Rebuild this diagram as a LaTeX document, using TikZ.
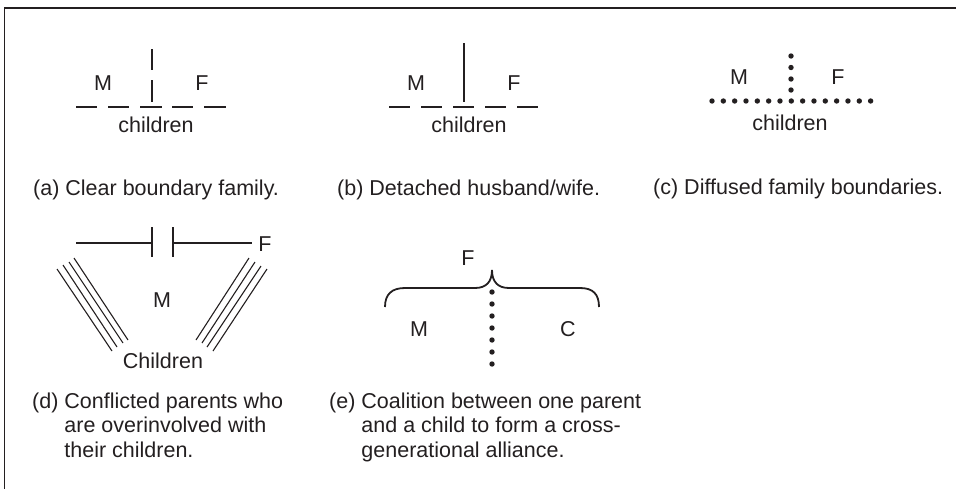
\documentclass[tikz,border=0pt]{standalone}
\usepackage{fontspec}
\setmainfont{Liberation Sans}
\definecolor{ink}{RGB}{35,31,32}
\begin{document}
\begin{tikzpicture}[x=1pt,y=-1pt,
  lbl/.style={anchor=base,inner sep=0pt,text=ink,font=\fontsize{21.5}{24.5}\selectfont},
  captxt/.style={anchor=base west,inner sep=0pt,text=ink,align=left,font=\fontsize{21.5}{24.5}\selectfont},
  ln/.style={draw=ink,line width=1.1pt},
  dotfill/.style={fill=ink}]
\useasboundingbox (0,0) rectangle (956,488);
% frame
\draw[draw=ink,line width=1.8pt] (4.5,500) -- (4.5,8) -- (970,8);

% (a)
\node[lbl] (aM) at (103,90) {M};
\node[lbl] (aF) at (202,90) {F};
\node[lbl] (ach) at (156,132) {children};
\draw[ln] (152,49) -- (152,70) (152,80) -- (152,102);
\foreach \a/\b in {76/97,108/129,140/162,172/193,204/226}
  \draw[ln] (\a,107) -- (\b,107);
\node[captxt] (acap) at (33,195) {(a) Clear boundary family.};

% (b)
\node[lbl] (bM) at (416,90) {M};
\node[lbl] (bF) at (514,90) {F};
\node[lbl] (bch) at (469,132) {children};
\draw[ln] (464,43) -- (464,102);
\foreach \a/\b in {389/410,421/442,453/474,485/506,517/538}
  \draw[ln] (\a,107) -- (\b,107);
\node[captxt] (bcap) at (337,195) {(b) Detached husband/wife.};

% (c)
\node[lbl] (cM) at (739,84) {M};
\node[lbl] (cF) at (838,84) {F};
\node[lbl] (cch) at (790,130) {children};
\foreach \i in {0,...,14}
  \fill[dotfill] ({712+\i*11.33},101) circle (2.7);
\foreach \y in {56,67.5,79,90}
  \fill[dotfill] (791,\y) circle (2.7);
\node[captxt] (ccap) at (653,194) {(c) Diffused family boundaries.};

% (d)
\node[lbl] (dF) at (265,251) {F};
\node[lbl] (dM) at (162,307) {M};
\node[lbl] (dch) at (163,368) {Children};
\draw[ln] (76,243) -- (152,243) (152,227) -- (152,257);
\draw[ln] (173,227) -- (173,257) (173,243) -- (252,243);
\draw[ln] (57,269) -- (112,351) (63,265) -- (117,347) (69,262) -- (123,343) (74,258) -- (128,340);
\draw[ln] (249,258) -- (196,340) (255,262) -- (202,343) (261,266) -- (207,347) (267,269) -- (213,351);
\node[captxt] (dcap) at (32,457) {(d) Conflicted parents who\\\phantom{(d) }are overinvolved with\\\phantom{(d) }their children.};

% (e)
\node[lbl] (eF) at (468,265) {F};
\node[lbl] (eM) at (419,336) {M};
\node[lbl] (eC) at (568,336) {C};
\draw[ln,line width=1.8pt] (385,307) .. controls (385,294) and (392,288) .. (405,288) -- (475,288)
  .. controls (486,288) and (492,282) .. (492,270)
  .. controls (492,282) and (498,288) .. (509,288) -- (580,288)
  .. controls (593,288) and (599,294) .. (599,307);
\foreach \y in {292,304,316,328,340,352,364}
  \fill[dotfill] (492,\y) circle (2.7);
\node[captxt] (ecap) at (329,457) {(e) Coalition between one parent\\\phantom{(e) }and a child to form a cross-\\\phantom{(e) }generational alliance.};
\end{tikzpicture}
\end{document}
